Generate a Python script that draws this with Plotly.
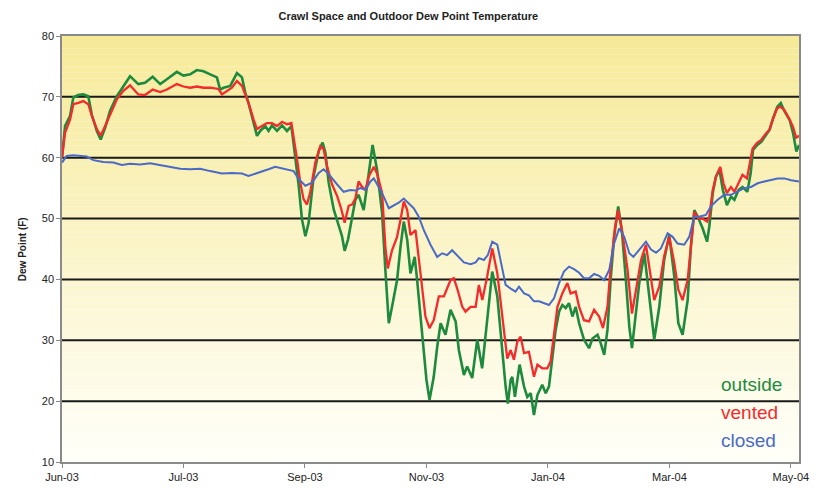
import pandas as pd
import plotly.graph_objects as go

# ---------------- data (day offset from 2003-06-01, dew point F) ----------------
start = pd.Timestamp("2003-06-01")

outside_day = [0, 1.5, 4, 5.6, 8, 10.5, 13, 14.7, 17.2, 19.1, 21.3, 23.7, 27.1, 30.3, 33.6, 37.7, 41, 44.8,
               48.5, 51.8, 56.7, 60, 63.3, 66.6, 69.9, 73.2, 76.5, 78.1, 79.8, 83.1, 84.7, 86.4, 88.9, 90.5,
               92.1, 93.8, 96.3, 97.9, 100.4, 102, 103.7, 106.2, 108.7, 111.1, 113.3, 113.9, 115.2, 116.9,
               118.5, 120.2, 121.8, 124.3, 126.8, 128.7, 130.1, 131.7, 134.2, 136.6, 138.3, 139.6, 141.3,
               143.3, 144.9, 146.5, 149, 151.5, 153.4, 155.6, 158.1, 159.7, 161.4, 163, 165.5, 167.2, 168.8,
               170.5, 172.1, 173, 174.2, 175.4, 177.9, 180, 181.5, 183.6, 185.3, 187, 189.4, 191.9, 194.4,
               196, 198.5, 200.1, 202.6, 205.1, 207.5, 210, 212.5, 215, 217.5, 219.1, 220.2, 221.6, 222.4,
               223.7, 226, 228.2, 229.8, 231.5, 233.1, 234.8, 237.2, 238.9, 240.5, 242.2, 243.8, 245.5,
               247.1, 248.8, 250.4, 252.1, 253.7, 255.4, 257.8, 260.3, 262, 264.5, 266.1, 267.8, 269.4,
               271.1, 272.7, 274.7, 276.5, 278.5, 280.2, 281.5, 283.2, 285.1, 287.6, 290, 292.5, 295,
               297.4, 299.9, 302.4, 304.4, 306.5, 309, 310.6, 312.3, 314, 316.4, 318.6, 319.7, 321.4, 323,
               324.7, 326.4, 328.4, 330.4, 332.1, 334.1, 336.1, 338.5, 340.1, 341.3, 343.4, 345.4, 347.9,
               349.5, 351.2, 353.3, 355, 356.9, 359.4, 361.1, 362.7, 364]
outside_dp = [60.0, 65.2, 66.9, 69.9, 70.3, 70.4, 70.1, 67.1, 64.4, 63.0, 64.9, 67.7, 70.1, 71.8, 73.4, 72.1,
              72.3, 73.3, 72.1, 72.9, 74.1, 73.5, 73.7, 74.4, 74.2, 73.7, 73.2, 71.2, 71.5, 71.8, 72.9, 73.9,
              73.2, 70.7, 69.0, 66.9, 63.6, 64.4, 65.2, 64.4, 65.3, 64.4, 65.3, 64.4, 65.2, 63.6, 60.3, 55.4,
              49.9, 47.1, 49.3, 57.0, 61.1, 62.5, 60.8, 55.9, 51.5, 49.1, 47.1, 44.7, 46.6, 50.2, 53.1, 53.9,
              51.4, 57.4, 62.1, 58.0, 50.9, 41.6, 32.8, 35.5, 39.9, 45.4, 49.5, 46.5, 41.0, 42.1, 43.7, 39.9,
              31.1, 23.5, 20.2, 24.0, 28.9, 32.8, 30.9, 35.0, 33.1, 28.4, 24.3, 25.7, 23.8, 30.1, 25.4, 33.3,
              41.3, 37.2, 27.9, 22.4, 19.6, 23.5, 24.0, 20.7, 26.0, 22.4, 20.7, 21.3, 17.7, 21.0, 22.7, 21.3,
              22.4, 27.3, 31.7, 34.7, 35.8, 35.3, 36.1, 33.9, 35.5, 32.8, 30.1, 28.7, 30.3, 30.9, 29.5, 27.6,
              31.7, 40.5, 47.0, 52.0, 48.1, 39.9, 32.2, 28.7, 33.9, 39.4, 44.3, 37.7, 30.1, 35.5, 43.2, 47.3,
              40.5, 32.8, 30.9, 36.6, 45.4, 51.4, 50.3, 48.4, 46.2, 48.7, 54.2, 56.9, 58.0, 54.7, 52.2, 53.6,
              53.1, 54.7, 55.2, 54.4, 57.4, 61.3, 62.1, 62.6, 63.7, 64.6, 66.5, 68.4, 69.0, 67.6, 66.2, 64.0,
              61.0, 62.1]

vented_day = [0, 1.5, 4, 5.6, 8.1, 10.5, 13, 14.7, 17.2, 19.1, 21.3, 23.7, 27.1, 30.3, 33.6, 37.7, 41, 44.8,
              48.5, 51.8, 56.7, 60, 63.3, 66.6, 69.9, 73.2, 77.3, 79, 81.4, 83.9, 86.4, 88.9, 90.5, 92.1,
              94.6, 96.3, 98.8, 101.2, 103.7, 106.2, 108.7, 111.1, 113.3, 114.4, 116.1, 117.7, 119.3, 121,
              122.6, 125.1, 127.6, 129.2, 130.9, 133.4, 135.9, 138, 139.6, 141.6, 143.3, 144.9, 146.5,
              148.2, 149.9, 151.5, 154, 155.6, 158.1, 159.7, 160.9, 163, 165.5, 167.2, 168.8, 170.5, 172.1,
              174.6, 176.2, 177.9, 179.5, 181.5, 183.6, 186.1, 188.6, 190.2, 191.9, 193.5, 195.2, 197.7,
              199.3, 201.8, 204.3, 205.9, 207.6, 210, 212.5, 215, 217.5, 219.9, 221.6, 223.2, 224.9, 226.5,
              228.2, 230.6, 233.1, 234.8, 237.2, 239.7, 241.3, 243, 244.7, 247.1, 249.6, 251.2, 253.7,
              255.4, 257.8, 260.3, 262.8, 265.3, 267.2, 269.4, 271, 273.2, 274.7, 276.8, 279.3, 281.5,
              283.5, 286, 288.4, 290, 292.5, 295, 297.4, 299.9, 302.4, 304.4, 306.5, 309, 310.6, 312.3,
              314.3, 316.4, 318.6, 319.7, 321.4, 323, 325.1, 326.7, 328.4, 330.4, 332.1, 334.1, 336.1,
              338.3, 339.9, 341.1, 343.2, 345.2, 347.7, 349.4, 351, 353.2, 354.8, 356.8, 359.3, 361, 362.6,
              364]
vented_dp = [60.0, 64.1, 66.3, 68.8, 69.0, 69.3, 68.8, 66.9, 64.7, 63.6, 65.2, 67.1, 69.6, 71.0, 71.9, 70.4,
             70.3, 71.2, 70.8, 71.2, 72.1, 71.7, 71.5, 71.7, 71.5, 71.5, 71.3, 70.4, 71.0, 71.5, 72.6, 71.8,
             70.4, 69.0, 66.3, 64.7, 65.2, 65.7, 65.7, 65.2, 65.9, 65.5, 65.7, 63.6, 59.7, 55.9, 53.2, 52.3,
             54.3, 59.2, 61.9, 61.4, 58.6, 55.6, 53.7, 51.5, 49.3, 52.1, 52.3, 53.3, 56.1, 55.2, 54.7, 56.9,
             58.5, 57.4, 54.2, 45.4, 41.8, 44.8, 47.0, 49.8, 52.8, 51.4, 47.3, 48.1, 43.2, 38.3, 33.9, 32.0,
             33.3, 37.2, 37.2, 38.5, 39.9, 40.2, 38.5, 35.5, 34.7, 35.5, 35.5, 39.1, 36.6, 40.5, 45.1, 41.0,
             33.3, 27.0, 28.4, 26.8, 29.8, 30.6, 27.9, 28.1, 24.0, 26.0, 25.4, 25.4, 26.5, 30.6, 35.5, 37.7,
             39.4, 37.7, 38.0, 35.5, 33.3, 33.1, 35.0, 33.9, 32.0, 35.5, 42.1, 48.7, 51.4, 47.6, 41.6, 34.4,
             38.3, 43.2, 45.7, 42.1, 36.6, 38.8, 43.8, 47.0, 42.7, 38.3, 36.6, 39.9, 45.4, 51.1, 50.0, 50.0,
             49.5, 50.3, 54.7, 56.9, 58.5, 55.8, 54.2, 55.2, 54.4, 55.8, 57.2, 56.6, 59.6, 61.5, 62.4, 62.9,
             64.0, 64.6, 66.2, 68.1, 68.4, 67.8, 66.3, 65.1, 63.3, 63.6]

closed_day = [0, 2.3, 5.6, 8.9, 12.2, 15.5, 20.4, 25.4, 29.5, 33.6, 38.6, 43.5, 48.5, 53.4, 58.4, 63.3, 68.2,
              73.2, 79, 83.9, 88.9, 92.1, 97.1, 102, 105.3, 109.4, 111.9, 114.4, 116.9, 120.2, 123.5, 126.8,
              129.2, 131.7, 135.9, 139.1, 142.4, 144.9, 147.4, 149.9, 152.3, 154, 156.4, 158.9, 161.4,
              163.8, 166.3, 168.8, 171.3, 173.7, 176.2, 178.7, 182, 185.3, 187.8, 190.2, 192.7, 195.2,
              198.5, 201.8, 204.3, 205.9, 208.4, 210.3, 212.5, 215, 216.6, 219.1, 221.6, 224, 225.7, 228.2,
              230.6, 233.1, 235.6, 238, 240.5, 243, 245.5, 247.9, 250.4, 252.9, 255.4, 257.8, 260.3, 262.8,
              265.3, 267.8, 270.3, 272.7, 275.2, 277.7, 280.2, 282.2, 284.4, 286.8, 288.4, 290.9, 293.4,
              295.8, 299.1, 301.6, 304, 307.3, 309.8, 312.3, 314.7, 318, 320.5, 323.8, 327.1, 330.4, 333.7,
              337, 340.3, 343.6, 346.9, 350.1, 353.4, 356.8, 360.1, 364]
closed_dp = [59.2, 60.3, 60.4, 60.3, 60.2, 59.6, 59.3, 59.2, 58.8, 59.0, 58.9, 59.1, 58.8, 58.5, 58.2, 58.1,
             58.2, 57.8, 57.4, 57.5, 57.4, 57.0, 57.5, 58.1, 58.5, 58.2, 58.0, 57.8, 56.5, 55.4, 55.9, 57.5,
             58.1, 57.3, 55.6, 54.4, 54.7, 54.6, 55.0, 54.7, 56.1, 56.6, 55.2, 53.6, 51.7, 52.2, 52.6, 53.3,
             52.5, 51.7, 50.3, 48.1, 45.7, 43.7, 44.3, 44.0, 44.8, 44.0, 42.8, 42.5, 42.8, 43.5, 43.2, 44.0,
             46.2, 45.7, 43.2, 39.1, 38.5, 38.0, 38.8, 37.7, 37.4, 36.4, 36.4, 36.1, 35.8, 36.9, 39.4, 41.3,
             42.1, 41.7, 41.1, 40.2, 40.2, 40.9, 40.6, 39.9, 41.6, 45.9, 48.4, 47.0, 44.3, 43.7, 44.6, 45.7,
             46.2, 44.9, 44.4, 45.1, 47.6, 47.0, 45.9, 45.7, 47.0, 50.3, 50.3, 50.6, 52.0, 53.1, 53.9, 53.9,
             54.4, 55.0, 55.2, 55.8, 56.1, 56.3, 56.6, 56.6, 56.3, 56.1]

tick_days = [0, 60, 120, 180, 240, 300, 360]
tick_labels = ["Jun-03", "Jul-03", "Sep-03", "Nov-03", "Jan-04", "Mar-04", "May-04"]
y_ticks = [10, 20, 30, 40, 50, 60, 70, 80]
grid_values = [20, 30, 40, 50, 60, 70]
series_names = ["outside", "vented", "closed"]


def to_dates(days):
    return [start + pd.Timedelta(days=d) for d in days]


FONT = "Liberation Sans, Arial, sans-serif"
colors = {"outside": "#1E8A3E", "vented": "#F52A2A", "closed": "#4A6AC6"}
widths = {"outside": 2.6, "vented": 2.3, "closed": 2.0}

fig = go.Figure()
for name, d, v in [("outside", outside_day, outside_dp),
                   ("vented", vented_day, vented_dp),
                   ("closed", closed_day, closed_dp)]:
    fig.add_trace(go.Scatter(x=to_dates(d), y=v, mode="lines", name=name,
                             line=dict(color=colors[name], width=widths[name]),
                             showlegend=False))

# gradient background (yellow top -> white bottom) as thin bands
shapes = []
n = 70
top = (246, 234, 152)
bot = (255, 255, 250)
for i in range(n):
    y0 = 10 + 70 * i / n
    y1 = 10 + 70 * (i + 1) / n
    t = (i + 0.5) / n
    c = tuple(round(bot[k] + (top[k] - bot[k]) * t) for k in range(3))
    shapes.append(dict(type="rect", xref="paper", yref="y", x0=0, x1=1, y0=y0, y1=y1,
                       fillcolor="rgb(%d,%d,%d)" % c, line=dict(width=0), layer="below"))
for g in grid_values:
    shapes.append(dict(type="line", xref="paper", yref="y", x0=0, x1=1, y0=g, y1=g,
                       line=dict(color="#1a1a1a", width=2), layer="below"))

annotations = []
legend_y = [22.8, 18.2, 13.5]
for name, ly in zip(series_names, legend_y):
    annotations.append(dict(text=name, xref="paper", yref="y", x=0.8915, y=ly,
                            xanchor="left", yanchor="middle", showarrow=False,
                            font=dict(family=FONT, size=19, color=colors[name])))
annotations.append(dict(text="<b>Dew Point (F)</b>", xref="paper", yref="y", x=-0.054, y=45,
                        textangle=-90, xanchor="center", yanchor="middle", showarrow=False,
                        font=dict(family=FONT, size=10, color="#222")))

# page body has an 8px margin, so the figure is offset by 8px right/down
W, H = 817, 483
fig.update_layout(
    width=W, height=H,
    margin=dict(l=54, r=26, t=28, b=29, autoexpand=False),
    paper_bgcolor="white",
    plot_bgcolor="white",
    title=dict(text="<b>Crawl Space and Outdoor Dew Point Temperature</b>",
               x=0.49, xanchor="center", y=1 - 8 / H, yanchor="middle",
               font=dict(family=FONT, size=11, color="#222")),
    shapes=shapes,
    annotations=annotations,
    xaxis=dict(type="date", range=[start, start + pd.Timedelta(days=364)],
               tickvals=to_dates(tick_days), ticktext=tick_labels,
               showgrid=False, zeroline=False, automargin=False,
               showline=True, linecolor="#8a8a8a", linewidth=1.5, mirror=True,
               ticks="outside", ticklen=4, tickcolor="#8a8a8a",
               tickfont=dict(family=FONT, size=11, color="#222"),
               tickprefix="<b>", ticksuffix="</b>"),
    yaxis=dict(range=[10, 80], tickvals=y_ticks,
               showgrid=False, zeroline=False, automargin=False,
               showline=True, linecolor="#8a8a8a", linewidth=1.5, mirror=True,
               ticks="outside", ticklen=4, tickcolor="#8a8a8a",
               tickfont=dict(family=FONT, size=11, color="#222"),
               tickprefix="<b>", ticksuffix="</b>"),
)

fig.write_html("out.html")
